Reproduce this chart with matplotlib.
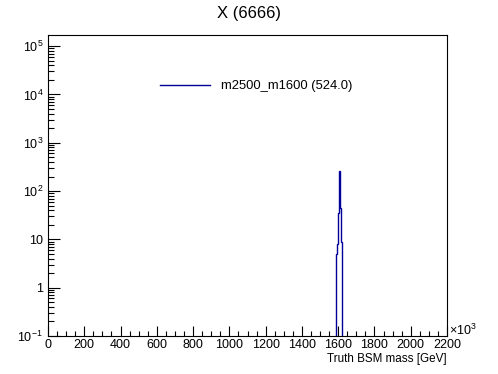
import numpy as np
import matplotlib
matplotlib.use("Agg")
import matplotlib.pyplot as plt
from matplotlib.ticker import MultipleLocator, LogLocator, FixedLocator, FixedFormatter, NullFormatter

plt.rcParams['font.family'] = ['Liberation Sans', 'DejaVu Sans']
plt.rcParams['mathtext.fontset'] = 'custom'
plt.rcParams['mathtext.rm'] = 'Liberation Sans'
plt.rcParams['mathtext.it'] = 'Liberation Sans'

# --- histogram data (truth BSM mass, GeV) ---
bin_edges = [1590, 1595, 1600, 1605, 1610, 1615, 1620]
counts = [5, 8, 35, 260, 45, 9]
legend_label = "m2500_m1600 (524.0)"
title = "X (6666)"
x_label = "Truth BSM mass [GeV]"
y_ticks = [0.1, 1, 10, 100, 1e3, 1e4, 1e5]
y_tick_labels = ["$10^{-1}$", "1", "10", "$10^{2}$", "$10^{3}$", "$10^{4}$", "$10^{5}$"]

fig = plt.figure(figsize=(4.98, 3.74), dpi=100)
ax = fig.add_axes([48/498, 38/374, 399/498, 301/374])

ax.stairs(counts, bin_edges, baseline=1e-3, color='#000099', lw=1.0, label=legend_label)

ax.set_yscale('log')
ax.set_xlim(0, 2200)
ax.set_ylim(0.1, 1.7e5)

# ticks, ROOT style
ax.xaxis.set_major_locator(MultipleLocator(200))
ax.xaxis.set_minor_locator(MultipleLocator(50))
ax.yaxis.set_major_locator(FixedLocator(y_ticks))
ax.yaxis.set_major_formatter(FixedFormatter(y_tick_labels))
ax.yaxis.set_minor_locator(LogLocator(base=10, subs=np.arange(2, 10)))
ax.yaxis.set_minor_formatter(NullFormatter())
ax.tick_params(axis='x', which='major', direction='in', length=7.2, width=0.8, pad=2, labelsize=9)
ax.tick_params(axis='x', which='minor', direction='in', length=3.6, width=0.8)
ax.tick_params(axis='y', which='major', direction='in', length=8.6, width=0.8, pad=3.5, labelsize=9)
ax.tick_params(axis='y', which='minor', direction='in', length=4.3, width=0.8)
for s in ax.spines.values():
    s.set_linewidth(0.8)

ax.set_xlabel(x_label, loc='right', fontsize=8.4, labelpad=1.5)
ax.text(1.004, 0.003, r"$\times10^{3}$", transform=ax.transAxes, fontsize=9, ha='left', va='baseline')

fig.suptitle(title, fontsize=12, y=0.965, va='center')

ax.legend(loc='center left', bbox_to_anchor=(160/498, 288/374), bbox_transform=fig.transFigure,
          frameon=False, fontsize=9.35, handlelength=3.85, handletextpad=0.85,
          borderpad=0, borderaxespad=0)
ax.get_legend().legend_handles[0].set_linewidth(1.0)

fig.savefig("out.png", dpi=100)
